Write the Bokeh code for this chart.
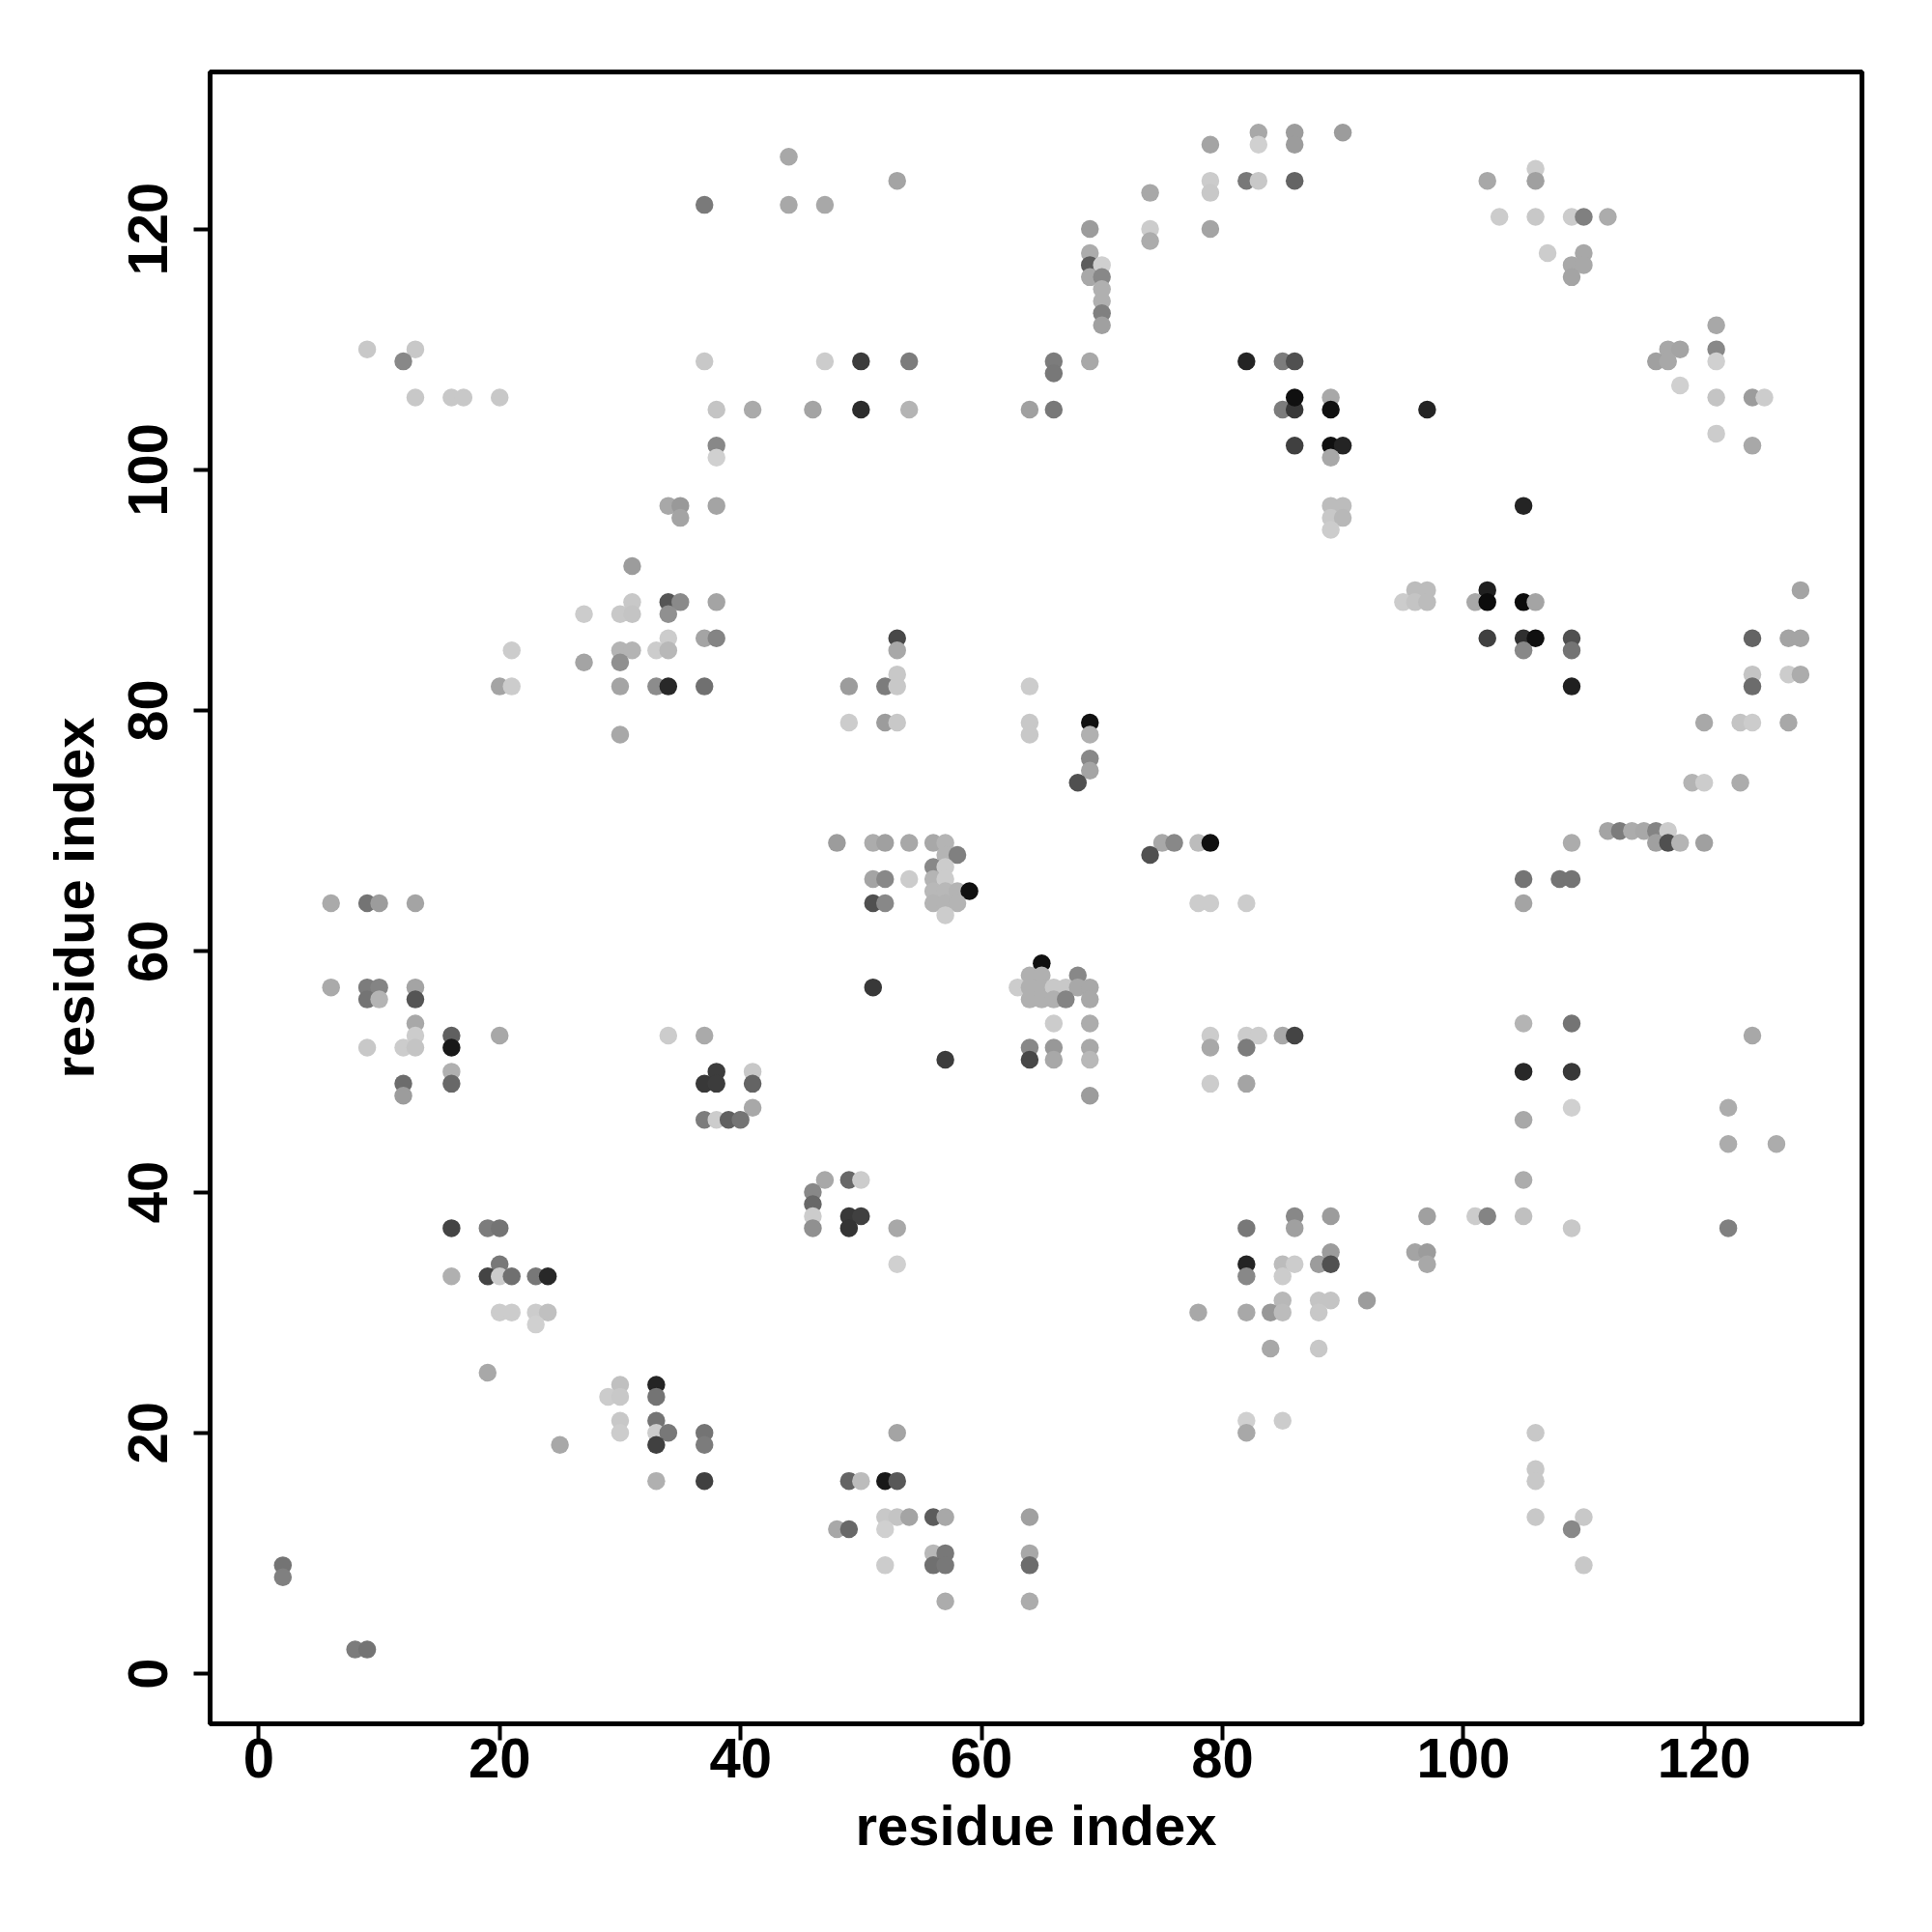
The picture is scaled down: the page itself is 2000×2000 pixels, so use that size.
from bokeh.plotting import figure
from bokeh.models import Range1d, FixedTicker, ColumnDataSource
from bokeh.embed import file_html
from bokeh.resources import INLINE

# contact points: residue i (x), residue j (y), grey level of the dot (0=black, 255=white)
res_i = [
    37, 9, 13, 12, 13, 16, 17, 20, 37, 38, 41, 38, 38, 34, 35, 35, 38, 31, 31, 34, 35, 38, 27, 30, 31, 34,
    34, 37, 38, 21, 30, 31, 33, 34, 27, 30, 20, 21, 30, 33, 34, 37, 30, 6, 9, 10, 13, 6, 9, 10, 13, 9, 10, 13,
    13, 13, 16, 20, 34, 37, 9, 12, 13, 16, 16, 38, 41, 12, 16, 37, 38, 41, 12, 41, 37, 38, 39, 40,
    16, 19, 20, 20, 16, 19, 20, 21, 23, 24, 20, 21, 23, 24, 23, 19, 30, 33, 29, 30, 33, 30, 33, 30, 33, 34, 37,
    25, 33, 37, 33, 37, 2, 2, 8, 9,
    44, 53, 44, 47, 79, 83, 83, 86, 86, 79, 79, 82, 83, 86, 74, 69, 74, 74, 79, 69, 69, 70, 69, 70, 70, 70, 70, 70,
    47, 50, 54, 66, 69, 82, 85, 86, 66, 46, 50, 54, 64, 66, 85, 86, 86, 86,
    90, 102, 106, 106, 103, 106, 109, 110, 112, 107, 110, 109, 110, 109, 121, 121, 121, 117, 118, 116, 117, 118,
    121, 124, 125, 121, 124, 89, 89, 97, 89, 90, 89, 89, 90, 89, 90, 89, 105, 96, 97, 102, 128, 95, 96, 97, 101,
    102, 105, 106,
    102, 105, 106, 109, 124, 127, 128, 105, 109, 124, 127, 128, 109, 124, 120, 123, 124, 127, 119, 120, 123,
    112, 113, 114, 115, 116, 117, 109, 116, 117, 118, 120, 105, 108, 109, 105, 105, 109, 124, 105, 109, 109, 122,
    105, 122, 126, 105,
    89, 97, 101, 102, 105, 109, 122, 89, 96, 97, 88, 89, 97, 88, 89, 92, 88, 88, 106, 106, 106, 106, 110, 109, 110,
    47, 49, 50, 46, 46, 46, 49, 50, 86, 46, 49, 53, 82, 86, 53, 82, 85, 86, 82, 85, 85, 78, 82, 84, 85, 84, 82, 85,
    82, 53, 49, 50, 52, 53, 52, 53, 54, 56, 57, 64, 48, 49, 52, 56, 57, 64, 52, 56, 57, 64, 57, 64,
    53, 53, 53, 49, 52, 53, 64, 49, 52, 53, 64, 69, 64, 69, 69, 69, 68, 48, 51, 52, 54, 56, 57, 75, 76, 78, 79,
    57, 58, 74, 56, 57, 51, 52, 54, 56, 57, 56, 57, 58, 59, 51, 52, 56, 57, 58, 78, 79, 82, 57, 65, 64, 65, 68,
    51, 63, 64, 65, 66, 67, 68, 69, 64, 65, 66, 67, 69, 66, 69, 79, 82, 83, 85, 86, 64, 66, 69, 79, 82, 57, 64,
    66, 69, 79, 82, 69,
]
res_j = [
    122, 110, 110, 109, 106, 106, 106, 106, 109, 105, 105, 102, 101, 97, 97, 96, 97, 92, 89, 89, 89, 89, 88, 88, 88, 88,
    86, 86, 86, 85, 85, 85, 85, 85, 84, 84, 82, 82, 82, 82, 82, 82, 78, 64, 64, 64, 64, 57, 57, 57, 57, 56, 56, 56,
    54, 53, 53, 53, 53, 53, 52, 52, 52, 52, 50, 50, 50, 49, 49, 49, 49, 49, 48, 47, 46, 46, 46, 46,
    37, 37, 37, 34, 33, 33, 33, 33, 33, 33, 30, 30, 30, 30, 29, 25, 24, 24, 23, 23, 23, 21, 21, 20, 20, 20, 20,
    19, 19, 19, 16, 16, 9, 8, 2, 2,
    126, 124, 122, 122, 127, 128, 127, 128, 127, 124, 123, 124, 124, 124, 123, 120, 120, 119, 120, 118, 117, 117,
    116, 116, 115, 114, 113, 112,
    109, 109, 109, 109, 109, 109, 109, 109, 108, 105, 105, 105, 105, 105, 105, 105, 106, 102,
    128, 124, 125, 124, 121, 121, 121, 121, 121, 118, 118, 117, 117, 116, 112, 110, 109, 110, 110, 109, 109, 107,
    106, 106, 106, 103, 102, 106, 105, 105, 102, 102, 101, 97, 97, 96, 96, 95, 97, 90, 90, 90, 90, 89, 89, 89, 89,
    89, 89, 89,
    86, 86, 86, 86, 86, 86, 86, 85, 85, 83, 83, 83, 82, 82, 79, 79, 79, 79, 74, 74, 74,
    70, 70, 70, 70, 70, 70, 69, 69, 69, 69, 69, 66, 66, 66, 64, 54, 54, 53, 50, 50, 47, 47,
    46, 44, 44, 41,
    38, 38, 38, 38, 38, 37, 37, 35, 35, 35, 34, 34, 34, 31, 31, 31, 30, 27, 20, 17, 16, 13, 13, 12, 9,
    41, 41, 41, 40, 39, 38, 38, 38, 38, 37, 37, 37, 37, 37, 34, 34, 34, 34, 33, 33, 31, 30, 30, 30, 30, 27, 21, 21,
    20, 20, 16, 16, 16, 16, 13, 13, 13, 13, 13, 13, 12, 12, 12, 10, 10, 10, 9, 9, 9, 9, 6, 6,
    86, 85, 83, 82, 82, 82, 82, 79, 79, 79, 79, 79, 78, 78, 76, 75, 74, 69, 69, 69, 69, 69, 69, 69, 69, 69, 69,
    68, 68, 68, 67, 67, 66, 66, 66, 66, 66, 65, 65, 65, 65, 64, 64, 64, 64, 64, 64, 64, 64, 63, 59, 58, 58, 58,
    57, 57, 57, 57, 57, 57, 57, 57, 56, 56, 56, 56, 56, 54, 54, 53, 53, 53, 53, 53, 52, 52, 52, 52, 52, 51, 51,
    51, 51, 49, 49, 48,
]
grey_level = [
    0x7a, 0xc8, 0xc8, 0x88, 0xc8, 0xc8, 0xc8, 0xc8, 0xc8, 0xc4, 0xaa, 0x88, 0xd0, 0xa8, 0x99, 0xa4, 0xa4, 0x9c,
    0xc8, 0x55, 0x8a, 0xa4, 0xcc, 0xc8, 0xc4, 0x90,
    0xcc, 0xa4, 0x84, 0xcc, 0xb4, 0xb4, 0xcc, 0xb8, 0xa4, 0x90, 0xa4, 0xcc, 0xa4, 0x8c, 0x28, 0x70, 0xa8,
    0xaa, 0x74, 0x9c, 0xa4, 0xaa, 0x7c, 0x84, 0xa4, 0x74, 0xb4, 0x55,
    0xa8, 0xcc, 0x60, 0xa8, 0xcc, 0xaa, 0xc8, 0xcc, 0xc4, 0x18, 0xb0, 0x3c, 0xc8, 0x6c, 0x68, 0x38, 0x3c, 0x64,
    0x9c, 0xa8, 0x7c, 0xcc, 0x60, 0x74,
    0x44, 0x7c, 0x74, 0x78, 0xb0, 0x44, 0xcc, 0x70, 0x78, 0x28, 0xcc, 0xcc, 0xcc, 0xc0, 0xd0, 0xa8, 0xc0, 0x24,
    0xcc, 0xc8, 0x74, 0xc8, 0x74, 0xcc, 0xcc, 0x78, 0x74,
    0xa8, 0x40, 0x7c, 0xb0, 0x40, 0x74, 0x80, 0x7c, 0x74,
    0xa8, 0xa4, 0xa8, 0xa8, 0xa4, 0xa8, 0xd0, 0x9c, 0x9c, 0xcc, 0xc8, 0x78, 0xc8, 0x64, 0xa8, 0x9c, 0xcc, 0xac,
    0xa4, 0xac, 0x5c, 0xd0, 0xa8, 0x88, 0xb0, 0xb0, 0x80, 0xa0,
    0xcc, 0x3c, 0x7c, 0x7c, 0xa8, 0x24, 0x7c, 0x50, 0x78, 0xa4, 0x2c, 0xb4, 0xa0, 0x78, 0x7c, 0x38, 0x10, 0x40,
    0x9c, 0xa8, 0xcc, 0xa0, 0xcc, 0xc8, 0xcc, 0x80, 0xac, 0xcc, 0xa8, 0xa8, 0xa8, 0xa4, 0xa8, 0x88, 0xd0, 0xa8,
    0xa4, 0xa0, 0xa8, 0xd0,
    0xc4, 0x9c, 0xcc, 0xcc, 0xa8, 0xa8, 0x10, 0x24, 0x10, 0x24, 0xa8, 0xbc, 0xbc, 0xc8, 0xb8, 0xcc, 0x24, 0xbc,
    0xbc, 0x20, 0xa4, 0xcc, 0xc4, 0xbc, 0xa8,
    0x0c, 0x0c, 0xa4,
    0x40, 0x30, 0x10, 0x50, 0x64, 0xa4, 0xa4, 0x88, 0x74, 0xc4, 0xcc, 0xac, 0x20, 0x6c, 0xa8, 0xc4, 0xcc, 0xa8,
    0xb4, 0xcc, 0xac,
    0xa4, 0x7c, 0xac, 0xa8, 0x84, 0xcc, 0xac, 0xa0, 0x50, 0xb4, 0xa0, 0x74, 0x74, 0x74, 0xa4, 0xb4, 0x74, 0xa8,
    0x28, 0x38, 0xd0, 0xac,
    0xa8, 0xac, 0xac, 0xac,
    0x9c, 0xa0, 0xcc, 0x84, 0xc0, 0xc8, 0x80, 0x9c, 0xa4, 0x9c, 0x9c, 0x50, 0xa8, 0xc4, 0xc4, 0x9c, 0xc8, 0xc8,
    0xc8, 0xc8, 0xc8, 0xc8, 0xc8, 0x88, 0xc8,
    0xa8, 0x68, 0xcc, 0x88, 0x68, 0xcc, 0x38, 0x40, 0x88, 0x90, 0x34, 0xa8, 0x78, 0xa0, 0xd0, 0x24, 0xbc, 0xcc,
    0x88, 0xcc, 0xb8, 0xa8, 0xa8, 0x98, 0xbc, 0xa8, 0xd0, 0xcc,
    0xa8, 0xa4, 0x64, 0xbc, 0x18, 0x58, 0xc8, 0xc4, 0xa4, 0x5c, 0xa8, 0xa0, 0xa8, 0x68, 0xd0, 0xb8, 0x78, 0xa8,
    0xcc, 0x70, 0x78, 0x6c, 0xac, 0xac,
    0x48, 0xa8, 0xc8, 0x9c, 0x7c, 0xc8, 0xcc, 0xcc, 0x9c, 0xc8, 0xc8, 0x10, 0xc8, 0xb0, 0x88, 0xa4, 0x50,
    0x9c, 0xac, 0xa0, 0xa8, 0xa8, 0xb4, 0xa8, 0x88, 0xbc, 0x10,
    0xb4, 0x80, 0x50, 0x88, 0xcc, 0xa4, 0x88, 0xcc, 0xb4, 0xcc, 0xb8, 0xb8, 0xb4, 0x10, 0x50, 0x88, 0xb4, 0xb4,
    0xb4, 0xcc, 0xcc, 0xcc, 0xcc, 0x10, 0xb0, 0xb0, 0x88,
    0x38, 0xcc, 0xb0, 0xb0, 0xc8, 0xc8, 0xa8, 0xa8, 0xb0, 0xb0, 0xb0, 0x84, 0xa8, 0xcc, 0xac, 0xcc, 0xcc, 0xcc,
    0xa8, 0x44, 0x88, 0x98, 0xa8, 0xa8, 0x7c, 0x3c, 0x48,
    0xa8, 0xb8, 0xcc, 0xa4, 0x9c,
]
tick_values = [0, 20, 40, 60, 80, 100, 120]
axis_title = "residue index"

n = min(len(res_i), len(res_j), len(grey_level))
colors = ["#%02x%02x%02x" % (g, g, g) for g in grey_level[:n]]
src = ColumnDataSource(dict(x=res_i[:n], y=res_j[:n], c=colors))

p = figure(frame_width=1710, frame_height=1710,
           x_range=Range1d(-4.04, 133.1), y_range=Range1d(-4.17, 133.04),
           min_border_left=217, min_border_top=74, min_border_right=40, min_border_bottom=190,
           output_backend="svg", toolbar_location=None)
p.scatter("x", "y", source=src, size=18.5, fill_color="c", line_color=None)

p.grid.visible = False
p.outline_line_color = "black"
p.outline_line_width = 5
p.background_fill_color = "white"
p.border_fill_color = "white"

for ax in (p.xaxis[0], p.yaxis[0]):
    ax.ticker = FixedTicker(ticks=tick_values)
    ax.axis_line_color = None
    ax.major_tick_in = 0
    ax.major_tick_out = 17
    ax.major_tick_line_width = 4
    ax.major_tick_line_color = "black"
    ax.minor_tick_line_color = None
    ax.major_label_text_font = "Liberation Sans"
    ax.major_label_text_font_style = "bold"
    ax.major_label_text_font_size = "58px"
    ax.major_label_text_color = "black"
    ax.axis_label = axis_title
    ax.axis_label_text_font = "Liberation Sans"
    ax.axis_label_text_font_style = "bold"
    ax.axis_label_text_font_size = "58px"
    ax.axis_label_text_color = "black"

p.xaxis[0].major_label_standoff = -2
p.xaxis[0].axis_label_standoff = 14
p.yaxis[0].major_label_standoff = 27
p.yaxis[0].axis_label_standoff = 22
p.yaxis[0].major_label_orientation = "vertical"

open("out.html", "w").write(file_html(p, INLINE))
